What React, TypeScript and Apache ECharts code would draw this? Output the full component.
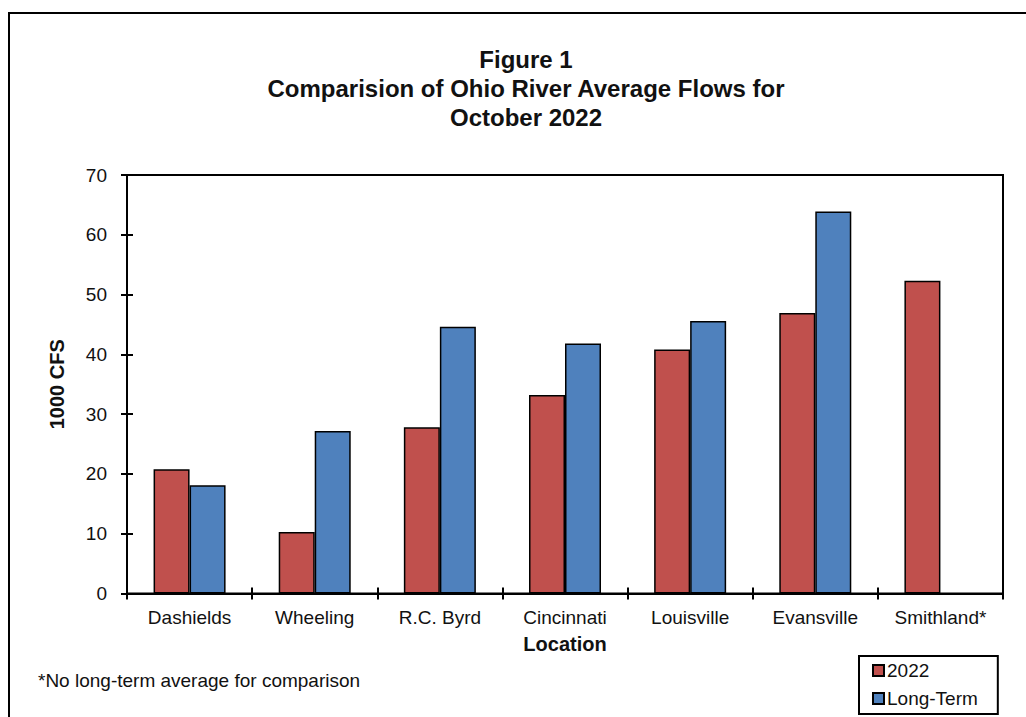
import React, { useEffect, useRef } from "react";
import * as echarts from "echarts";

const categories = ["Dashields", "Wheeling", "R.C. Byrd", "Cincinnati", "Louisville", "Evansville", "Smithland*"];
const values2022 = [20.8, 10.3, 27.8, 33.2, 40.8, 46.9, 52.3];
const valuesLongTerm: (number | null)[] = [18.1, 27.2, 44.6, 41.8, 45.6, 63.9, null];
const seriesNames = ["2022", "Long-Term"];
const titleLines = ["Figure 1", "Comparision of Ohio River Average Flows for", "October 2022"];
const footnote = "*No long-term average for comparison";
const yAxisName = "1000 CFS";
const xAxisName = "Location";

const FONT = "Arial, 'Liberation Sans', sans-serif";
const TXT = "#111";

export default function App() {
  const ref = useRef<HTMLDivElement>(null);
  useEffect(() => {
    if (!ref.current) return;
    const chart = echarts.init(ref.current, undefined, { renderer: "svg" });
    const axisCommon = {
      min: 0,
      max: 70,
      interval: 10,
    };
    chart.setOption({
      animation: false,
      backgroundColor: "#fff",
      title: {
        text: titleLines.join("\n"),
        left: 521,
        top: 40,
        textAlign: "center",
        textStyle: {
          fontFamily: FONT,
          fontSize: 24,
          fontWeight: "bold",
          lineHeight: 29,
          color: TXT,
        },
      },
      grid: {
        left: 127,
        right: 23,
        top: 175,
        bottom: 123.5,
        show: true,
        borderColor: "#000",
        borderWidth: 2,
        backgroundColor: "transparent",
      },
      legend: {
        orient: "vertical",
        left: 859,
        top: 656,
        itemWidth: 11,
        itemHeight: 11,
        itemGap: 9,
        padding: [5, 20, 6, 13],
        borderColor: "#000",
        borderWidth: 2,
        icon: "rect",
        textStyle: { fontFamily: FONT, fontSize: 19, color: TXT, padding: [0, 0, 0, -2] },
        data: seriesNames,
      },
      xAxis: [
        {
          type: "category",
          data: categories,
          position: "bottom",
          axisLine: { show: true, lineStyle: { color: "#000", width: 2 } },
          axisTick: { show: true, inside: false, length: 6, lineStyle: { color: "#000", width: 2 } },
          axisLabel: { fontFamily: FONT, fontSize: 19, color: TXT, margin: 14 },
          name: xAxisName,
          nameLocation: "middle",
          nameGap: 40,
          nameTextStyle: { fontFamily: FONT, fontSize: 20, fontWeight: "bold", color: TXT },
        },
        {
          type: "category",
          data: categories,
          position: "bottom",
          offset: 0,
          axisLine: { show: false },
          axisTick: { show: true, inside: true, length: 6, lineStyle: { color: "#000", width: 2 } },
          axisLabel: { show: false },
        },
      ],
      yAxis: [
        {
          type: "value",
          ...axisCommon,
          position: "left",
          axisLine: { show: true, lineStyle: { color: "#000", width: 2 } },
          axisTick: { show: true, inside: false, length: 6, lineStyle: { color: "#000", width: 2 } },
          axisLabel: { fontFamily: FONT, fontSize: 19, color: TXT, margin: 20 },
          splitLine: { show: false },
          name: yAxisName,
          nameLocation: "middle",
          nameGap: 60,
          nameRotate: 90,
          nameTextStyle: { fontFamily: FONT, fontSize: 20, fontWeight: "bold", color: TXT },
        },
        {
          type: "value",
          ...axisCommon,
          position: "left",
          offset: 0,
          axisLine: { show: false },
          axisTick: { show: true, inside: true, length: 6, lineStyle: { color: "#000", width: 2 } },
          axisLabel: { show: false },
          splitLine: { show: false },
        },
      ],
      series: [
        {
          name: seriesNames[0],
          type: "bar",
          data: values2022,
          barWidth: 36,
          barGap: "0%",
          itemStyle: { color: "#C0504D", borderColor: "#000", borderWidth: 1.5 },
        },
        {
          name: seriesNames[1],
          type: "bar",
          data: valuesLongTerm,
          barWidth: 36,
          barGap: "0%",
          itemStyle: { color: "#4F81BD", borderColor: "#000", borderWidth: 1.5 },
        },
      ],
      graphic: [
        {
          type: "rect",
          shape: { x: 9, y: 13, width: 1100, height: 800 },
          style: { fill: "none", stroke: "#000", lineWidth: 2 },
          silent: true,
        },
        {
          type: "text",
          x: 38,
          y: 680,
          style: {
            text: footnote,
            fontFamily: FONT,
            fontSize: 19,
            fill: TXT,
            verticalAlign: "middle",
          },
        },
      ],
    });
    return () => chart.dispose();
  }, []);
  return (
    <div
      ref={ref}
      style={{ position: "fixed", left: 0, top: 0, width: 1026, height: 717, background: "#fff" }}
    />
  );
}
